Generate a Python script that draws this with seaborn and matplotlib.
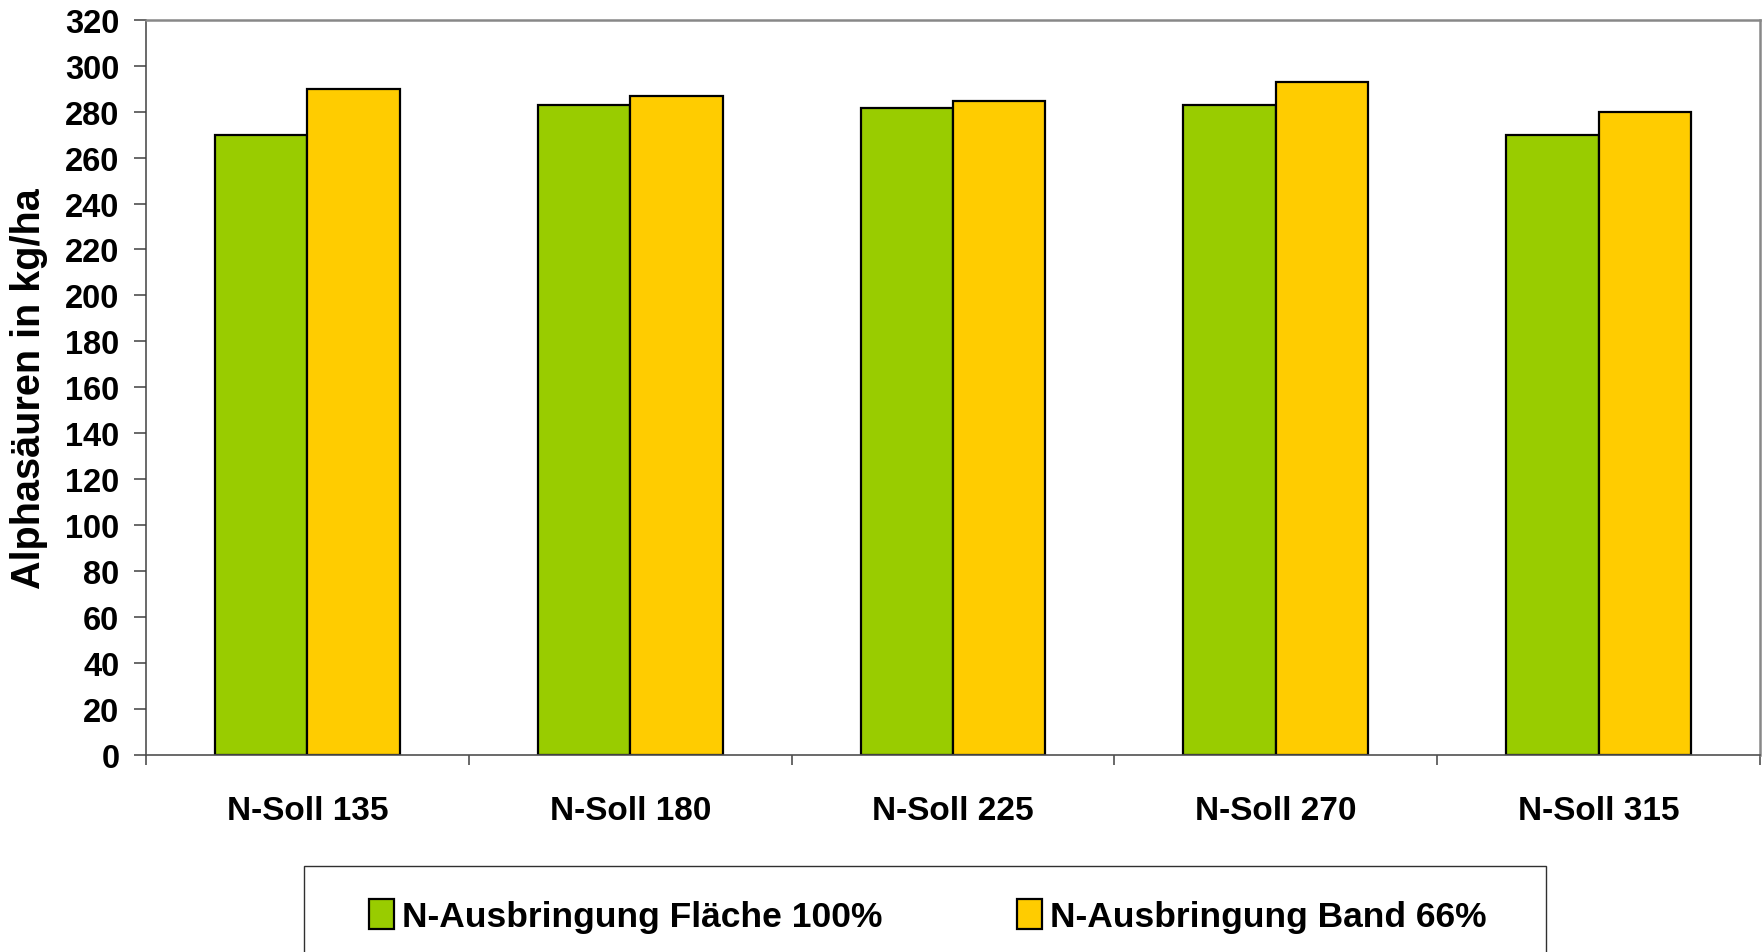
import matplotlib
matplotlib.use("Agg")
import matplotlib.pyplot as plt
import seaborn as sns
import pandas as pd
from matplotlib.patches import Patch, Rectangle
from matplotlib.ticker import FixedLocator, MultipleLocator

# Alpha acid yield per N target level and application method
categories = ["N-Soll 135", "N-Soll 180", "N-Soll 225", "N-Soll 270", "N-Soll 315"]
series_names = ["N-Ausbringung Fläche 100%", "N-Ausbringung Band 66%"]
flaeche_100 = [270, 283, 281.5, 283, 270]
band_66 = [290, 287, 284.5, 293, 280]
y_label = "Alphasäuren in kg/ha"
series_colors = ["#99CC00", "#FFCC00"]

df = pd.DataFrame({
    "Variante": categories * 2,
    "Serie": [series_names[0]] * len(categories) + [series_names[1]] * len(categories),
    "Wert": flaeche_100 + band_66,
})

sns.set_theme(style="white")
plt.rcParams["font.family"] = ["Liberation Sans", "DejaVu Sans"]
plt.rcParams["font.weight"] = "bold"
plt.rcParams["text.color"] = "black"

W, H = 1763, 953
fig = plt.figure(figsize=(W / 100, H / 100), dpi=100)
ax = fig.add_axes([146 / W, 1 - 756 / H, (1760 - 146) / W, (756 - 20.7) / H])

palette = dict(zip(series_names, series_colors))
sns.barplot(data=df, x="Variante", y="Wert", hue="Serie", order=categories,
            hue_order=series_names, palette=palette, saturation=1, width=0.573,
            edgecolor="black", linewidth=1.6, legend=False, ax=ax)

ax.set_xlim(-0.5, len(categories) - 0.5)
ax.set_ylim(0, 320)
ax.yaxis.set_major_locator(MultipleLocator(20))
ax.xaxis.set_minor_locator(FixedLocator([i - 0.5 for i in range(len(categories) + 1)]))

ax.tick_params(axis="y", which="major", direction="out", length=8.6, width=1.1,
               color="#404040", pad=10.5, labelsize=23.5, left=True, labelcolor="black")
ax.tick_params(axis="x", which="major", length=0, pad=29, labelsize=24, labelcolor="black")
ax.tick_params(axis="x", which="minor", direction="out", length=7.5, width=1.1,
               color="#404040", bottom=True)
for lab in ax.get_xticklabels() + ax.get_yticklabels():
    lab.set_fontweight("bold")

ax.set_xlabel("")
ax.set_ylabel(y_label, fontsize=28.5, fontweight="bold", color="black")
ax.yaxis.set_label_coords((48 - 146) / (1760 - 146), 0.5)

for side in ("top", "right"):
    ax.spines[side].set_color("#888888")
    ax.spines[side].set_linewidth(1.8)
for side in ("left", "bottom"):
    ax.spines[side].set_color("#505050")
    ax.spines[side].set_linewidth(1.2)
ax.spines["left"].set_zorder(0.5)

# Legend box below the plot
fig.patches.append(Rectangle((304 / W, 1 - 962 / H), (1546 - 304) / W, (962 - 867) / H,
                             transform=fig.transFigure, facecolor="white",
                             edgecolor="#303030", linewidth=1.0))
handles = [Patch(facecolor=c, edgecolor="black", linewidth=1.6) for c in series_colors]
fs = 25.5
fs_px = fs * 100 / 72
fig.legend(handles, series_names, loc="center", bbox_to_anchor=(928 / W, 1 - 917 / H),
           ncol=2, frameon=False, prop={"weight": "bold", "size": fs}, labelcolor="black",
           handlelength=25 / fs_px, handleheight=32 / fs_px, handletextpad=8 / fs_px,
           columnspacing=135 / fs_px, borderpad=0, borderaxespad=0)

fig.savefig("out.png", dpi=100, facecolor="white")
